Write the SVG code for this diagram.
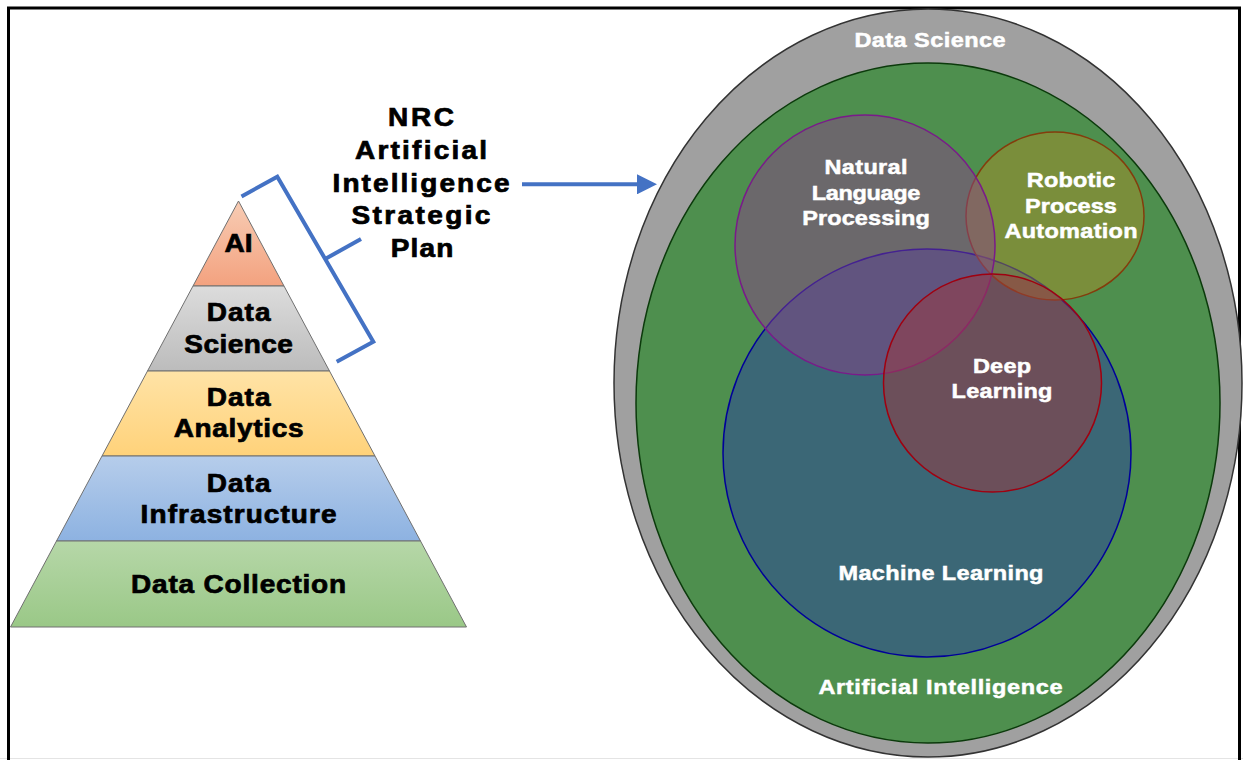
<svg xmlns="http://www.w3.org/2000/svg" width="1243" height="760" viewBox="0 0 1243 760">
  <style>
    .lbl { font-family: "Liberation Sans", Arial, sans-serif; font-weight: bold; text-anchor: middle; }
    .dark { fill: #000; font-size: 25px; stroke: #000; stroke-width: 0.7; }
    .white { fill: #fff; font-size: 21px; stroke: #fff; stroke-width: 0.5; }
    .layer { stroke: #707070; stroke-width: 1; }
    .conn { stroke: #4472C4; stroke-width: 4; fill: none; }
  </style>
  <defs>
    <linearGradient id="gAI" x1="0" y1="0" x2="0" y2="1"><stop offset="0" stop-color="#F8CCB4"/><stop offset="1" stop-color="#F3A27F"/></linearGradient>
    <linearGradient id="gDS" x1="0" y1="0" x2="0" y2="1"><stop offset="0" stop-color="#DCDCDC"/><stop offset="1" stop-color="#BCBCBC"/></linearGradient>
    <linearGradient id="gDA" x1="0" y1="0" x2="0" y2="1"><stop offset="0" stop-color="#FFE3A6"/><stop offset="1" stop-color="#FFD27A"/></linearGradient>
    <linearGradient id="gDI" x1="0" y1="0" x2="0" y2="1"><stop offset="0" stop-color="#B6CDEB"/><stop offset="1" stop-color="#8DB2E1"/></linearGradient>
    <linearGradient id="gDC" x1="0" y1="0" x2="0" y2="1"><stop offset="0" stop-color="#B6D7A8"/><stop offset="1" stop-color="#9AC887"/></linearGradient>
    <marker id="arrow" markerWidth="5" markerHeight="5" refX="1" refY="2.5" orient="auto" markerUnits="strokeWidth">
      <path d="M0,0 L5,2.5 L0,5 Z" fill="#4472C4"/>
    </marker>
  </defs>

  <rect x="0" y="0" width="1243" height="760" fill="#fff"/>
  <line x1="0" y1="758.5" x2="1243" y2="758.5" stroke="#e4e4e4" stroke-width="1"/>
  <rect x="8.5" y="8" width="1231" height="770" fill="none" stroke="#000" stroke-width="3"/>

  <!-- Pyramid -->
  <g id="pyr-ai">
    <polygon class="layer" points="238.5,201 284,286 193,286" fill="url(#gAI)"/>
    <text class="lbl dark" transform="translate(238.6 0) scale(1.12 1)" x="0" y="251.7" textLength="25" lengthAdjust="spacing">AI</text>
  </g>
  <g id="pyr-ds">
    <polygon class="layer" points="193,286 284,286 329.5,371 147.5,371" fill="url(#gDS)"/>
    <text class="lbl dark" transform="translate(238.6 0) scale(1.12 1)" x="0" y="320.7" textLength="57" lengthAdjust="spacing">Data</text>
    <text class="lbl dark" transform="translate(238.6 0) scale(1.12 1)" x="0" y="352.7" textLength="97" lengthAdjust="spacing">Science</text>
  </g>
  <g id="pyr-da">
    <polygon class="layer" points="147.5,371 329.5,371 375,456 102,456" fill="url(#gDA)"/>
    <text class="lbl dark" transform="translate(238.6 0) scale(1.12 1)" x="0" y="406" textLength="57" lengthAdjust="spacing">Data</text>
    <text class="lbl dark" transform="translate(238.6 0) scale(1.12 1)" x="0" y="436.7" textLength="116" lengthAdjust="spacing">Analytics</text>
  </g>
  <g id="pyr-di">
    <polygon class="layer" points="102,456 375,456 420.5,541 56.5,541" fill="url(#gDI)"/>
    <text class="lbl dark" transform="translate(238.6 0) scale(1.12 1)" x="0" y="491.7" textLength="57" lengthAdjust="spacing">Data</text>
    <text class="lbl dark" transform="translate(238.6 0) scale(1.12 1)" x="0" y="523.3" textLength="175" lengthAdjust="spacing">Infrastructure</text>
  </g>
  <g id="pyr-dc">
    <polygon class="layer" points="56.5,541 420.5,541 466.5,627 10.5,627" fill="url(#gDC)"/>
    <text class="lbl dark" transform="translate(238.6 0) scale(1.12 1)" x="0" y="593.3" textLength="192" lengthAdjust="spacing">Data Collection</text>
  </g>

  <!-- Title -->
  <g id="title">
    <text class="lbl dark" transform="translate(421 0) scale(1.12 1)" x="0" y="126" textLength="59" lengthAdjust="spacing">NRC</text>
    <text class="lbl dark" transform="translate(421 0) scale(1.12 1)" x="0" y="159.3" textLength="118" lengthAdjust="spacing">Artificial</text>
    <text class="lbl dark" transform="translate(421 0) scale(1.12 1)" x="0" y="192.3" textLength="158" lengthAdjust="spacing">Intelligence</text>
    <text class="lbl dark" transform="translate(421 0) scale(1.12 1)" x="0" y="224.5" textLength="124" lengthAdjust="spacing">Strategic</text>
    <text class="lbl dark" transform="translate(422 0) scale(1.12 1)" x="0" y="256.7" textLength="56" lengthAdjust="spacing">Plan</text>
  </g>

  <!-- Venn -->
  <g id="data-science">
    <ellipse cx="928" cy="383" rx="314" ry="374" fill="#A0A0A0" stroke="#333" stroke-width="1.5"/>
    <text class="lbl white" font-size="20" transform="translate(930 0) scale(1.12 1)" x="0" y="47" textLength="135" lengthAdjust="spacing">Data Science</text>
  </g>
  <g id="artificial-intelligence">
    <ellipse cx="928" cy="403" rx="292" ry="340" fill="#4E8F4E" stroke="#0B3A0B" stroke-width="1.5"/>
  </g>
  <g id="machine-learning">
    <circle cx="927" cy="453" r="204" fill="rgb(40,63,158)" fill-opacity="0.5" stroke="#00009A" stroke-width="1.5"/>
  </g>
  <g id="rpa">
    <ellipse cx="1055" cy="216" rx="89" ry="84" fill="rgb(166,141,40)" fill-opacity="0.5" stroke="#843C0C" stroke-width="1.5"/>
  </g>
  <g id="nlp">
    <circle cx="865" cy="245" r="130" fill="rgb(136,65,136)" fill-opacity="0.5" stroke="#7A1A8A" stroke-width="1.5"/>
  </g>
  <g id="deep-learning">
    <circle cx="992.5" cy="383" r="109" fill="rgb(157,55,62)" fill-opacity="0.5" stroke="#A00010" stroke-width="1.5"/>
  </g>

  <g id="venn-labels">
    <text class="lbl white" transform="translate(866 0) scale(1.12 1)" x="0" y="174.3" textLength="74" lengthAdjust="spacing">Natural</text>
    <text class="lbl white" transform="translate(866 0) scale(1.12 1)" x="0" y="200" textLength="97" lengthAdjust="spacing">Language</text>
    <text class="lbl white" transform="translate(866 0) scale(1.12 1)" x="0" y="225" textLength="114" lengthAdjust="spacing">Processing</text>
    <text class="lbl white" transform="translate(1071 0) scale(1.12 1)" x="0" y="186.7" textLength="79" lengthAdjust="spacing">Robotic</text>
    <text class="lbl white" transform="translate(1071 0) scale(1.12 1)" x="0" y="212.7" textLength="82" lengthAdjust="spacing">Process</text>
    <text class="lbl white" transform="translate(1071 0) scale(1.12 1)" x="0" y="237.7" textLength="119" lengthAdjust="spacing">Automation</text>
    <text class="lbl white" transform="translate(1002 0) scale(1.12 1)" x="0" y="373.3" textLength="52" lengthAdjust="spacing">Deep</text>
    <text class="lbl white" transform="translate(1002 0) scale(1.12 1)" x="0" y="398.3" textLength="90" lengthAdjust="spacing">Learning</text>
    <text class="lbl white" transform="translate(941 0) scale(1.12 1)" x="0" y="580" textLength="183" lengthAdjust="spacing">Machine Learning</text>
    <text class="lbl white" transform="translate(940.5 0) scale(1.12 1)" x="0" y="694" textLength="218" lengthAdjust="spacing">Artificial Intelligence</text>
  </g>

  <!-- Connectors -->
  <g id="connectors">
    <polyline class="conn" points="241.5,196.5 277.3,176.7 373.3,341.7 336.7,361.7"/>
    <line class="conn" x1="326" y1="258.5" x2="361" y2="239"/>
    <line class="conn" x1="522" y1="184.3" x2="641" y2="184.3" marker-end="url(#arrow)"/>
  </g>
</svg>
